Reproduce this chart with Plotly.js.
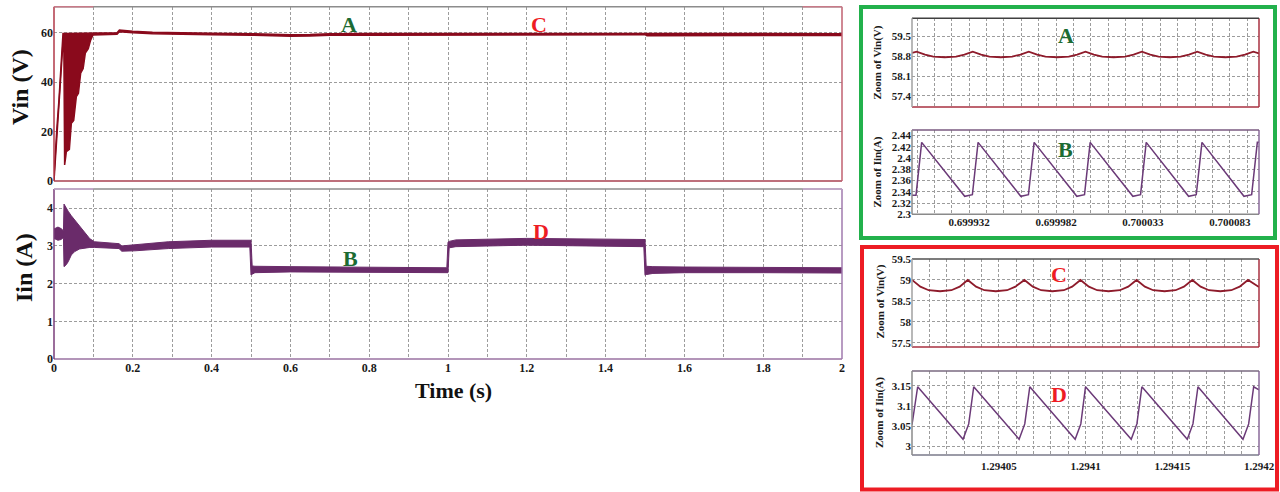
<!DOCTYPE html>
<html><head><meta charset="utf-8">
<script src="https://cdn.plot.ly/plotly-3.0.1.min.js"></script>
<style>html,body{margin:0;padding:0;background:#fff}#chart{width:1280px;height:492px}</style>
</head><body><div id="chart"></div>
<script>
// ---------- main simulation: input voltage envelope ----------
const vinTime  = [0, 0.0034, 0.0076, 0.0127, 0.0169, 0.0203, 0.0228, 0.0250, 0.0270, 0.0300,
                  0.0313, 0.0390, 0.0440, 0.0500, 0.0567, 0.0620, 0.0677, 0.0740, 0.0795, 0.0870,
                  0.0930, 0.0990, 0.12, 0.15, 0.160, 0.166, 0.18, 0.20, 0.25, 0.30,
                  0.40, 0.50, 0.55, 0.60, 0.65, 0.70, 0.80, 0.90, 1.00, 1.20,
                  1.25, 1.40, 1.50, 1.505, 1.60, 1.80, 2.00];
const vinUpper = [2, 12, 22, 33, 45, 53, 59.7, 59.7, 59.7, 59.7,
                  59.7, 59.7, 59.7, 59.7, 59.7, 59.7, 59.7, 59.7, 59.7, 59.7,
                  59.7, 59.8, 59.8, 60.0, 60.0, 61.1, 60.9, 60.6, 60.2, 60.0,
                  59.8, 59.6, 59.3, 59.2, 59.3, 59.6, 59.7, 59.7, 59.7, 59.8,
                  59.8, 59.7, 59.7, 59.5, 59.6, 59.6, 59.6];
const vinLower = [0, 9, 19, 29, 41, 49, 56, 55, 6.5, 10,
                  11.9, 12.8, 23.3, 24.5, 34.1, 35.5, 43.6, 45.5, 51.7, 53.5,
                  57.0, 59.1, 59.2, 59.4, 59.4, 60.4, 60.2, 60.0, 59.6, 59.4,
                  59.2, 59.0, 58.6, 58.5, 58.6, 59.0, 59.0, 59.0, 59.0, 59.1,
                  59.2, 59.3, 59.2, 58.8, 58.9, 58.9, 58.9];

// ---------- main simulation: input current envelope ----------
const iinTime  = [0, 0.010, 0.018, 0.021, 0.024, 0.0254, 0.031, 0.036, 0.044, 0.0525,
                  0.065, 0.078, 0.091, 0.103, 0.154, 0.165, 0.172, 0.205, 0.29, 0.40,
                  0.497, 0.500, 0.503, 0.51, 0.60, 0.80, 0.997, 1.000, 1.003, 1.02,
                  1.20, 1.40, 1.497, 1.500, 1.503, 1.52, 1.60, 1.80, 2.00];
const iinUpper = [3.45, 3.50, 3.46, 3.42, 3.40, 4.11, 4.00, 3.92, 3.80, 3.69,
                  3.51, 3.33, 3.19, 3.11, 3.07, 3.06, 3.00, 3.03, 3.11, 3.15,
                  3.15, 3.15, 2.47, 2.46, 2.45, 2.44, 2.42, 3.10, 3.12, 3.16,
                  3.20, 3.18, 3.17, 3.17, 2.46, 2.45, 2.44, 2.42, 2.42];
const iinLower = [3.20, 3.15, 3.17, 3.20, 3.20, 2.45, 2.50, 2.58, 2.76, 2.85,
                  2.92, 2.95, 2.96, 2.96, 2.93, 2.93, 2.86, 2.87, 2.93, 2.97,
                  2.97, 2.23, 2.25, 2.29, 2.31, 2.30, 2.29, 2.29, 2.95, 2.98,
                  3.02, 3.00, 2.98, 2.22, 2.24, 2.27, 2.29, 2.29, 2.28];

// ---------- zoom A: Vin around 0.7 s ----------
const zoomATime = [0.69990000, 0.69990271, 0.69990754, 0.69991237, 0.69991894, 0.69992551, 0.69993034,
                   0.69993517, 0.69994000, 0.69994483, 0.69995140, 0.69995797, 0.69996280,
                   0.69996763, 0.69997246, 0.69997729, 0.69998405, 0.69999081, 0.69999564,
                   0.70000047, 0.70000531, 0.70001014, 0.70001671, 0.70002347, 0.70002830,
                   0.70003313, 0.70003796, 0.70004279, 0.70004917, 0.70005554, 0.70006037,
                   0.70006520, 0.70007003, 0.70007486, 0.70008143, 0.70008800, 0.70009283,
                   0.70009766, 0.70010095];
const zoomAVin  = [58.92, 58.965, 58.86, 58.79, 58.765, 58.79, 58.86,
                   58.965, 58.86, 58.79, 58.765, 58.79, 58.86,
                   58.965, 58.86, 58.79, 58.765, 58.79, 58.86,
                   58.965, 58.86, 58.79, 58.765, 58.79, 58.86,
                   58.965, 58.86, 58.79, 58.765, 58.79, 58.86,
                   58.965, 58.86, 58.79, 58.765, 58.79, 58.86,
                   58.965, 58.90];

// ---------- zoom B: Iin around 0.7 s ----------
const zoomBTime = [0.69990000, 0.69990232, 0.69990560, 0.69993053, 0.69993497, 0.69993826,
                   0.69996299, 0.69996743, 0.69997072, 0.69999545, 0.69999990, 0.70000318,
                   0.70002791, 0.70003236, 0.70003564, 0.70006018, 0.70006462, 0.70006791,
                   0.70009225, 0.70009670, 0.70009998, 0.70010095];
const zoomBIin  = [2.334, 2.334, 2.428, 2.332, 2.335, 2.428,
                   2.332, 2.335, 2.428, 2.332, 2.335, 2.428,
                   2.332, 2.335, 2.428, 2.332, 2.335, 2.428,
                   2.332, 2.335, 2.428, 2.428];

// ---------- zoom C: Vin around 1.2941 s ----------
const zoomCTime = [1.29400000, 1.29400481, 1.29400962, 1.29401615, 1.29402269, 1.29402750,
                   1.29403212, 1.29403692, 1.29404173, 1.29404827, 1.29405481, 1.29405962,
                   1.29406481, 1.29406962, 1.29407442, 1.29408096, 1.29408750, 1.29409231,
                   1.29409712, 1.29410192, 1.29410673, 1.29411327, 1.29411981, 1.29412462,
                   1.29412942, 1.29413423, 1.29413904, 1.29414558, 1.29415192, 1.29415673,
                   1.29416154, 1.29416635, 1.29417116, 1.29417769, 1.29418404, 1.29418885,
                   1.29419366, 1.29419846, 1.29420000];
const zoomCVin  = [59.0, 58.84, 58.755, 58.73, 58.755, 58.84,
                   59.0, 58.84, 58.755, 58.73, 58.755, 58.84,
                   59.0, 58.84, 58.755, 58.73, 58.755, 58.84,
                   59.0, 58.84, 58.755, 58.73, 58.755, 58.84,
                   59.0, 58.84, 58.755, 58.73, 58.755, 58.84,
                   59.0, 58.84, 58.755, 58.73, 58.755, 58.84,
                   59.0, 58.86, 58.83];

// ---------- zoom D: Iin around 1.2941 s ----------
const zoomDTime = [1.29400000, 1.29400327, 1.29402942, 1.29403269, 1.29403558, 1.29406173, 1.29406500,
                   1.29406789, 1.29409404, 1.29409731, 1.29410000, 1.29412635, 1.29412962,
                   1.29413250, 1.29415866, 1.29416193, 1.29416481, 1.29419077, 1.29419404,
                   1.29419693, 1.29420000];
const zoomDIin  = [3.054, 3.148, 3.018, 3.056, 3.148, 3.018, 3.056,
                   3.148, 3.018, 3.056, 3.148, 3.018, 3.056,
                   3.148, 3.018, 3.056, 3.148, 3.018, 3.056,
                   3.148, 3.140];

// ---------- tick labels ----------
const mainTimeLabels = ['0','0.2','0.4','0.6','0.8','1','1.2','1.4','1.6','1.8','2'];
const vinTicks  = [0, 20, 40, 60];
const iinTicks  = [0, 1, 2, 3, 4];
const zoomABTimeLabels = ['0.699932','0.699982','0.700033','0.700083'];
const zoomCDTimeLabels = ['1.29405','1.2941','1.29415','1.2942'];
const zoomAVinTicks = [57.4, 58.1, 58.8, 59.5];
const zoomBIinTicks = [2.3, 2.32, 2.34, 2.36, 2.38, 2.4, 2.42, 2.44];
const zoomCVinTicks = [57.5, 58, 58.5, 59, 59.5];
const zoomDIinTicks = [3, 3.05, 3.1, 3.15];

// ---------- styling ----------
const SERIF = '"Liberation Serif", "Times New Roman", serif';
const VIN_C = '#8a0a1c', IIN_C = '#6a2b6a';
const VIN_Z = '#8e1b2b', IIN_Z = '#6b3a78';
const GREEN_T = '#1c6b33', RED_T = '#ee1c24';
const W = 1280, H = 492;

function gridTicks(first, step, n, labels) {
  const vals = [], texts = [];
  for (let k = 0; k < n; k++) {
    const v = +(first + k * step).toFixed(10);
    vals.push(v);
    let t = '';
    labels.forEach(l => { if (Math.abs(Number(l) - v) < step * 0.3) t = l; });
    texts.push(t);
  }
  return {vals, texts};
}
const mainGrid = gridTicks(0, 0.1, 21, mainTimeLabels);
const abGrid = gridTicks(0.6999029, 0.0000100667, 20, zoomABTimeLabels);
const cdGrid = gridTicks(1.29401, 0.00001, 20, zoomCDTimeLabels);

function dom(px0, px1) { return [px0 / W, px1 / W]; }
function domY(pyTop, pyBot) { return [1 - pyBot / H, 1 - pyTop / H]; }

function axis(domain, range, anchor, tv, tt, fsize, show, extra) {
  return Object.assign({
    domain, range, anchor, tickmode: 'array', tickvals: tv, ticktext: tt,
    showticklabels: show, showgrid: true, gridcolor: '#9c9c9c', griddash: '3px,2px', gridwidth: 1,
    zeroline: false, showline: false, ticks: '', fixedrange: true,
    tickfont: {family: SERIF, size: fsize, color: '#1a1a1a', weight: 'bold'}
  }, extra || {});
}

const MX = dom(54, 842), SX = dom(912, 1259);
const layout = {
  width: W, height: H, margin: {l: 0, r: 0, t: 0, b: 0},
  paper_bgcolor: '#ffffff', plot_bgcolor: '#ffffff', showlegend: false,
  xaxis:  axis(MX, [0, 2], 'y', mainGrid.vals, mainGrid.texts, 12, false),
  yaxis:  axis(domY(6.7, 181), [0, 70.5], 'x', vinTicks, vinTicks.map(String), 12, true),
  xaxis2: axis(MX, [0, 2], 'y2', mainGrid.vals, mainGrid.texts, 12, true),
  yaxis2: axis(domY(189, 359), [0, 4.51], 'x2', iinTicks, iinTicks.map(String), 12, true),
  xaxis3: axis(SX, [0.6999, 0.70010095], 'y3', abGrid.vals, abGrid.texts, 11, false),
  yaxis3: axis(domY(18.3, 107), [57.01, 60.14], 'x3', zoomAVinTicks, zoomAVinTicks.map(String), 11, true),
  xaxis4: axis(SX, [0.6999, 0.70010095], 'y4', abGrid.vals, abGrid.texts, 11, true),
  yaxis4: axis(domY(130, 214.3), [2.3, 2.45], 'x4', zoomBIinTicks, zoomBIinTicks.map(String), 11, true),
  xaxis5: axis(SX, [1.294, 1.2942], 'y5', cdGrid.vals, cdGrid.texts, 11, false),
  yaxis5: axis(domY(259, 347), [57.4, 59.5], 'x5', zoomCVinTicks, zoomCVinTicks.map(String), 11, true),
  xaxis6: axis(SX, [1.294, 1.2942], 'y6', cdGrid.vals, cdGrid.texts, 11, true, {ticklabelstandoff: 3}),
  yaxis6: axis(domY(371, 455), [2.979, 3.187], 'x6', zoomDIinTicks, zoomDIinTicks.map(String), 11, true),
};

function frame(xa, ya, c) {
  const xr = xa + ' domain', yr = ya + ' domain';
  const L = (x0, y0, x1, y1, color) => ({type: 'line', xref: xr, yref: yr, x0, y0, x1, y1, line: {color, width: 1.5}});
  const s = [L(0, 0, 1, 0, c.bottom), L(1, 0, 1, 1, c.right), L(0, 1, 1, 1, c.top), L(0, 0, 0, 1, c.left)];
  if (c.ends) { s.push(L(0, 1, 0.05, 1, c.ends), L(0.95, 1, 1, 1, c.ends)); }
  return s;
}
function paperRect(x0, y0, x1, y1, color) {
  return {type: 'rect', xref: 'paper', yref: 'paper', x0: x0 / W, x1: x1 / W, y0: 1 - y1 / H, y1: 1 - y0 / H,
          line: {color, width: 4}, fillcolor: 'rgba(0,0,0,0)'};
}
layout.shapes = [].concat(
  frame('x', 'y', {top: '#8c8c8c', ends: '#c87a88', right: '#c06070', bottom: '#a84050', left: '#b03848'}),
  frame('x2', 'y2', {top: '#8c8c8c', ends: '#c8a8d0', right: '#a07aae', bottom: '#9a72a2', left: '#7a3c7a'}),
  frame('x3', 'y3', {top: '#404040', right: '#a83040', bottom: '#a83040', left: '#a0a0a0'}),
  frame('x4', 'y4', {top: '#7a5a80', right: '#8a6a9a', bottom: '#8a8a8a', left: '#8a8a8a'}),
  frame('x5', 'y5', {top: '#505050', right: '#a83040', bottom: '#a83040', left: '#a0a0a0'}),
  frame('x6', 'y6', {top: '#7a6a80', right: '#8a6a9a', bottom: '#7a7a8a', left: '#8a8a8a'}),
  [paperRect(861, 7, 1275, 238, '#22b14c'), paperRect(862, 247, 1277, 489.5, '#ed1c24')]
);

function note(text, px, py, size, color, angle) {
  return {text, x: px / W, y: 1 - py / H, xref: 'paper', yref: 'paper', xanchor: 'center', yanchor: 'middle',
          showarrow: false, textangle: angle || 0, font: {family: SERIF, size, color, weight: 'bold'}};
}
layout.annotations = [
  note('Vin (V)', 20, 87, 24, '#111', -90),
  note('Iin (A)', 24, 268, 24, '#111', -90),
  note('Time (s)', 453, 390, 22, '#111'),
  note('A', 349, 25, 22, GREEN_T),
  note('C', 539, 25, 22, RED_T),
  note('B', 350.5, 258, 22, GREEN_T),
  note('D', 541, 231, 22, RED_T),
  note('A', 1066, 35, 22, GREEN_T),
  note('B', 1065.5, 149, 22, GREEN_T),
  note('C', 1058.5, 274, 22, RED_T),
  note('D', 1059, 394, 22, RED_T),
  note('Zoom of Vin(V)', 877, 62.5, 11, '#1a1a1a', -90),
  note('Zoom of Iin(A)', 877, 172.5, 11, '#1a1a1a', -90),
  note('Zoom of Vin(V)', 879.5, 302, 11, '#1a1a1a', -90),
  note('Zoom of Iin(A)', 879, 413, 11, '#1a1a1a', -90)
];

const data = [
  {x: vinTime, y: vinLower, xaxis: 'x', yaxis: 'y', mode: 'lines', line: {color: VIN_C, width: 1.5}, hoverinfo: 'skip'},
  {x: vinTime, y: vinUpper, xaxis: 'x', yaxis: 'y', mode: 'lines', fill: 'tonexty', fillcolor: VIN_C, line: {color: VIN_C, width: 1.5}, hoverinfo: 'skip'},
  {x: iinTime, y: iinLower, xaxis: 'x2', yaxis: 'y2', mode: 'lines', line: {color: IIN_C, width: 1}, hoverinfo: 'skip'},
  {x: iinTime, y: iinUpper, xaxis: 'x2', yaxis: 'y2', mode: 'lines', fill: 'tonexty', fillcolor: IIN_C, line: {color: IIN_C, width: 1}, hoverinfo: 'skip'},
  {x: zoomATime, y: zoomAVin, xaxis: 'x3', yaxis: 'y3', mode: 'lines', line: {color: VIN_Z, width: 1.8}},
  {x: zoomBTime, y: zoomBIin, xaxis: 'x4', yaxis: 'y4', mode: 'lines', line: {color: IIN_Z, width: 1.5}},
  {x: zoomCTime, y: zoomCVin, xaxis: 'x5', yaxis: 'y5', mode: 'lines', line: {color: VIN_Z, width: 1.8}},
  {x: zoomDTime, y: zoomDIin, xaxis: 'x6', yaxis: 'y6', mode: 'lines', line: {color: IIN_Z, width: 1.5}}
];

Plotly.newPlot('chart', data, layout, {staticPlot: true, displayModeBar: false});
</script>
</body></html>
